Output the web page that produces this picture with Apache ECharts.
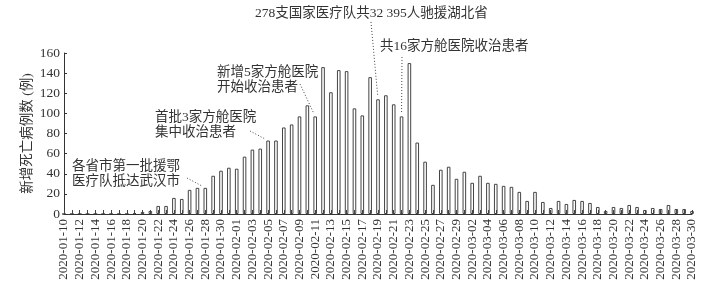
<!DOCTYPE html>
<html><head><meta charset="utf-8">
<script src="https://cdn.jsdelivr.net/npm/echarts@6/dist/echarts.min.js"></script>
<style>html,body{margin:0;padding:0;background:#fff}#c{width:713px;height:284px}</style>
</head><body><div id="c"></div>
<script>
var dates = [
'2020-01-10','2020-01-11','2020-01-12','2020-01-13','2020-01-14','2020-01-15','2020-01-16','2020-01-17','2020-01-18','2020-01-19',
'2020-01-20','2020-01-21','2020-01-22','2020-01-23','2020-01-24','2020-01-25','2020-01-26','2020-01-27','2020-01-28','2020-01-29',
'2020-01-30','2020-01-31','2020-02-01','2020-02-02','2020-02-03','2020-02-04','2020-02-05','2020-02-06','2020-02-07','2020-02-08',
'2020-02-09','2020-02-10','2020-02-11','2020-02-12','2020-02-13','2020-02-14','2020-02-15','2020-02-16','2020-02-17','2020-02-18',
'2020-02-19','2020-02-20','2020-02-21','2020-02-22','2020-02-23','2020-02-24','2020-02-25','2020-02-26','2020-02-27','2020-02-28',
'2020-02-29','2020-03-01','2020-03-02','2020-03-03','2020-03-04','2020-03-05','2020-03-06','2020-03-07','2020-03-08','2020-03-09',
'2020-03-10','2020-03-11','2020-03-12','2020-03-13','2020-03-14','2020-03-15','2020-03-16','2020-03-17','2020-03-18','2020-03-19',
'2020-03-20','2020-03-21','2020-03-22','2020-03-23','2020-03-24','2020-03-25','2020-03-26','2020-03-27','2020-03-28','2020-03-29',
'2020-03-30'];
var deaths = [
0,0,0,0,0,0,0,0,0,1,
2,3,8,8,16,15,24,26,26,38,
43,46,45,57,64,65,73,73,86,89,
97,108,97,146,121,143,142,105,98,136,
114,118,109,97,150,71,52,29,44,47,
35,42,31,38,31,30,28,27,22,13,
22,12,6,13,10,14,13,11,7,3,
7,6,9,7,4,6,5,9,5,5,
3];
var yTicks = [0,20,40,60,80,100,120,140,160];
var yName = '新增死亡病例数 (例)';
var notes = [
  {lines:['各省市第一批援鄂','医疗队抵达武汉市'], x:72, y:160, from:[187,178], target:'2020-01-28'},
  {lines:['首批3家方舱医院','集中收治患者'], x:155, y:111, from:[250,131], target:'2020-02-05'},
  {lines:['新增5家方舱医院','开始收治患者'], x:217, y:66, from:[300,84], target:'2020-02-11'},
  {lines:['278支国家医疗队共32 395人驰援湖北省'], x:255, y:7, from:[371,22], target:'2020-02-19'},
  {lines:['共16家方舱医院收治患者'], x:380, y:40, from:[402,57], target:'2020-02-22'}
];

var FONT = '"Liberation Serif","Noto Sans CJK SC",serif';
var chart = echarts.init(document.getElementById('c'), null, {renderer:'canvas'});
chart.setOption({
  animation:false,
  backgroundColor:'#fff',
  grid:{left:64, right:21, top:53, bottom:70, containLabel:false},
  xAxis:{
    type:'category', data:dates, boundaryGap:false, z:5,
    axisLine:{lineStyle:{color:'#333', width:1}},
    axisTick:{show:true, inside:true, length:4, interval:0, lineStyle:{color:'#444'}},
    axisLabel:{interval:1, rotate:90, margin:5, fontSize:13, fontFamily:FONT, color:'#333'}
  },
  yAxis:{
    type:'value', min:yTicks[0], max:yTicks[yTicks.length-1], interval:yTicks[1]-yTicks[0], z:5,
    name:yName, nameLocation:'middle', nameRotate:90, nameGap:30, nameMoveOverlap:false,
    nameTextStyle:{fontSize:13.5, fontFamily:FONT, color:'#333'},
    axisLine:{show:true, lineStyle:{color:'#333', width:1}},
    axisTick:{show:true, inside:true, length:3, lineStyle:{color:'#333'}},
    axisLabel:{margin:4, fontSize:13.5, fontFamily:FONT, color:'#333'},
    splitLine:{show:false}
  },
  series:[{
    type:'bar', data:deaths, barWidth:3.6,
    itemStyle:{color:'#fff', borderColor:'#444', borderWidth:1}
  }]
});

var g = [];
notes.forEach(function(n){
  n.lines.forEach(function(t, k){
    g.push({type:'text', left:n.x, top:n.y + k*15, z:10,
      style:{text:t, font:'13.5px ' + FONT, fill:'#333'}});
  });
  var idx = dates.indexOf(n.target);
  var p = chart.convertToPixel({seriesIndex:0}, [idx, deaths[idx]]);
  var dx = p[0] - n.from[0], dy = p[1] - n.from[1];
  var len = Math.sqrt(dx*dx + dy*dy);
  var ex = p[0] - dx/len*3.5, ey = p[1] - dy/len*3.5;
  g.push({type:'line', z:10, shape:{x1:n.from[0], y1:n.from[1], x2:ex, y2:ey},
    style:{stroke:'#444', lineWidth:1, lineDash:[1,2]}});
});
chart.setOption({graphic:g});
</script></body></html>
